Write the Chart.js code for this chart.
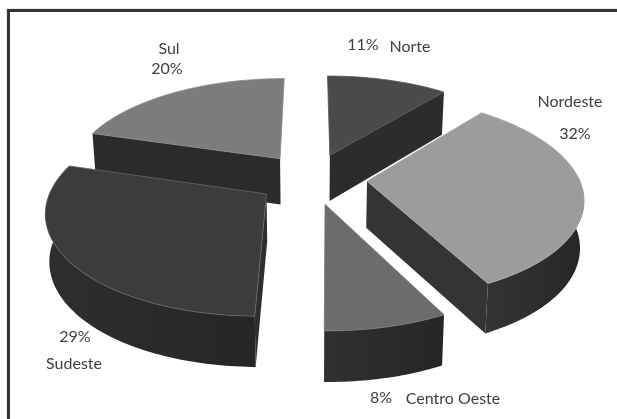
<!DOCTYPE html>
<html>
<head>
<meta charset="utf-8">
<script src="https://cdn.jsdelivr.net/npm/chart.js@4/dist/chart.umd.js"></script>
<style>
  html, body { margin: 0; background: #fff; overflow: hidden; }
  #wrap { position: absolute; left: 0; top: 0; width: 617px; height: 419px; overflow: hidden; }
  #frame { position: absolute; left: 7px; top: 9px; width: 700px; height: 500px;
           border: 3px solid #333; box-shadow: 0 0 1px #888; }
  #grafico { position: absolute; left: 0; top: 0; filter: blur(0.6px); }
</style>
</head>
<body>
<div id="wrap">
  <div id="frame"></div>
  <canvas id="grafico" width="617" height="419"></canvas>
</div>
<script>
// regioes do Brasil, em % (os rotulos mostram o valor arredondado;
// as casas decimais sao estimadas pelos angulos das fatias)
const REGIOES = ['Norte', 'Nordeste', 'Centro Oeste', 'Sudeste', 'Sul'];
const VALORES = [10.9, 31.6, 7.7, 29.4, 20.4];

const TOPO    = ['#4a4a4a', '#9c9c9c', '#6c6c6c', '#3c3c3c', '#7c7c7c'];
const LATERAL = ['#2c2c2c', '#343434', '#303030', '#2e2e2e', '#2b2b2b'];
const BORDA   = ['#555555', '#a8a8a8', '#7a7a7a', '#666666', '#8a8a8a'];
const SOMBRA  = '#262626';

// onde vai cada rotulo: [nome x, y, valor x, y]
const ROTULOS = [
  [410, 47, 363, 45],
  [570, 102, 575, 134],
  [453, 399, 381, 398],
  [74, 364, 75, 337],
  [169, 49, 167, 69],
];

// camera da pizza 3D
const CX = 312, CY = 178.5;
const RX = 212, RY = 98.1;
const PERSP = 0.154;
const ALTURA = 46.5;
const EXPLODE = 0.26;

function projeta(u, v) {
  const w = 1 - PERSP * v;
  const x = CX + RX * u / w;
  const h = ALTURA * (1 + 0.08 * v);
  return { x, y: CY + RY * v / w, h, xb: CX + (x - CX) * 0.985 };
}

function parede(ctx, pts, cor) {
  ctx.fillStyle = cor;
  ctx.beginPath();
  pts.forEach((p, k) => k ? ctx.lineTo(p.x, p.y) : ctx.moveTo(p.x, p.y));
  for (let k = pts.length - 1; k >= 0; k--) ctx.lineTo(pts[k].xb, pts[k].y + pts[k].h);
  ctx.closePath();
  ctx.fill();
}

// =========================================================
// PIZZA 3D: usa os angulos que o proprio Chart.js calculou
// =========================================================
const pizza3d = {
  id: 'pizza3d',
  beforeDatasetsDraw(chart) {
    const ctx = chart.ctx;
    const arcos = chart.getDatasetMeta(0).data.map((el, i) => {
      const ini = el.startAngle + Math.PI / 2;
      const fim = el.endAngle + Math.PI / 2;
      const meio = (ini + fim) / 2;
      return { i, ini, fim, ou: EXPLODE * Math.sin(meio), ov: -EXPLODE * Math.cos(meio) };
    });

    // de tras para frente
    arcos.sort((a, b) => a.ov - b.ov);

    arcos.forEach(s => {
      const pts = [];
      const frente = [];
      const passos = Math.ceil((s.fim - s.ini) / 0.02);
      for (let k = 0; k <= passos; k++) {
        const t = s.ini + (s.fim - s.ini) * k / passos;
        const p = projeta(s.ou + Math.sin(t), s.ov - Math.cos(t));
        pts.push(p);
        if (Math.cos(t) < 0.05) frente.push(p);
      }
      const apice = projeta(s.ou, s.ov);

      // parede curva, so a parte virada para a frente
      if (frente.length > 1) {
        const xs = frente.map(p => p.x);
        const grad = ctx.createLinearGradient(Math.min(...xs), 0, Math.max(...xs), 0);
        grad.addColorStop(0, LATERAL[s.i]);
        grad.addColorStop(1, SOMBRA);
        parede(ctx, frente, grad);
      }

      // paredes retas, so as visiveis
      if (Math.sin(s.ini) < -0.001) parede(ctx, [apice, pts[0]], LATERAL[s.i]);
      if (Math.sin(s.fim) > 0.001) parede(ctx, [apice, pts[pts.length - 1]], LATERAL[s.i]);

      // tampa
      ctx.beginPath();
      ctx.moveTo(apice.x, apice.y);
      pts.forEach(p => ctx.lineTo(p.x, p.y));
      ctx.closePath();
      ctx.fillStyle = TOPO[s.i];
      ctx.fill();
      ctx.strokeStyle = BORDA[s.i];
      ctx.lineWidth = 0.8;
      ctx.stroke();
    });

    // rotulos
    ctx.font = '16px Lato, "Open Sans", sans-serif';
    ctx.fillStyle = '#404040';
    ctx.textAlign = 'center';
    ctx.textBaseline = 'middle';
    REGIOES.forEach((nome, i) => {
      const r = ROTULOS[i];
      ctx.fillText(nome, r[0], r[1]);
      ctx.fillText(Math.round(VALORES[i]) + '%', r[2], r[3]);
    });
    return false;
  }
};

new Chart(document.getElementById('grafico').getContext('2d'), {
  type: 'pie',
  data: {
    labels: REGIOES,
    datasets: [{ data: VALORES, backgroundColor: TOPO, borderWidth: 0 }]
  },
  options: {
    responsive: false,
    animation: false,
    plugins: { legend: { display: false }, tooltip: { enabled: false } }
  },
  plugins: [pizza3d]
});
</script>
</body>
</html>
